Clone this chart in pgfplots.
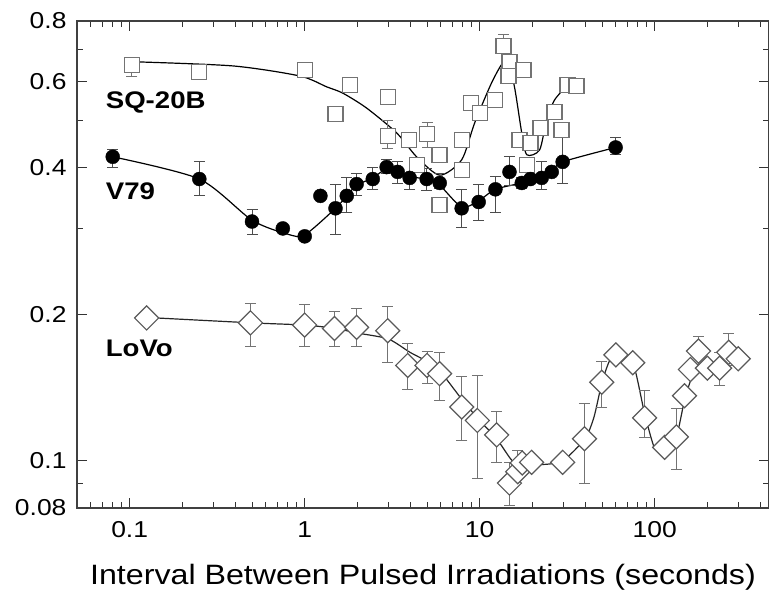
\documentclass[border=0pt]{standalone}
\usepackage{pgfplots}
\pgfplotsset{compat=1.18}
\usepackage{pgfplotstable}
\usepackage{fontspec}
\setmainfont{Liberation Sans}[FakeStretch=1.15]
\usetikzlibrary{calc}

\pgfplotstableread{
x y ep em
0.08 0.421 0.014 0.020
0.25 0.379 0.032 0.029
0.5 0.310 0.019 0.019
0.75 0.300 0 0
1.0 0.289 0 0
1.23 0.350 0 0
1.5 0.330 0.040 0.039
1.74 0.350 0.031 0.027
1.98 0.370 0.020 0.019
2.45 0.379 0.022 0.019
2.94 0.401 0.014 0.011
3.4 0.392 0.019 0.020
3.98 0.381 0.009 0.021
4.98 0.379 0.020 0.020
5.91 0.372 0.018 0.010
7.89 0.330 0.030 0.029
9.87 0.340 0.030 0.029
12.3 0.361 0.023 0.038
14.8 0.392 0.029 0.024
17.4 0.372 0.010 0.010
19.5 0.379 0 0
22.6 0.381 0.030 0.021
25.8 0.392 0 0
29.8 0.411 0.051 0.039
59.8 0.440 0.022 0.015
}\vseven

\pgfplotstableread{
x y
0.08 0.421
0.25 0.379
0.5 0.312
0.8 0.292
1.0 0.291
1.5 0.330
1.74 0.350
1.98 0.368
2.45 0.381
2.94 0.398
3.4 0.392
3.98 0.383
4.98 0.379
5.91 0.368
7.89 0.332
9.87 0.342
12.3 0.361
17.4 0.372
19.5 0.378
22.6 0.383
25.8 0.393
29.8 0.411
59.8 0.440
}\vsevenline

\pgfplotstableread{
x y ep em
0.103 0.650 0 0.033
0.25 0.629 0 0
1.0 0.634 0 0
1.81 0.591 0 0
1.50 0.516 0 0
2.98 0.558 0 0
2.98 0.465 0.036 0.028
3.93 0.456 0 0
5.0 0.469 0.027 0.028
4.4 0.405 0 0
5.9 0.425 0 0
5.9 0.335 0 0
7.9 0.396 0 0
7.9 0.456 0 0
8.9 0.543 0 0
10.0 0.518 0 0
12.2 0.551 0 0
13.7 0.710 0.042 0.020
14.8 0.659 0 0
14.6 0.617 0 0
17.8 0.634 0 0
16.9 0.456 0 0
19.5 0.450 0 0
18.6 0.405 0 0
22.3 0.482 0 0
26.8 0.520 0 0
29.4 0.478 0 0
31.8 0.591 0 0
35.8 0.589 0 0
}\sqdata

\pgfplotstableread{
x y
0.103 0.660
0.388 0.647
0.936 0.617
1.336 0.586
1.649 0.569
2.26 0.530
3.36 0.471
4.36 0.421
5.91 0.386
7.89 0.415
9.36 0.494
11.9 0.605
14.3 0.668
15.8 0.586
17.4 0.471
18.6 0.425
22.0 0.435
24.1 0.501
26.8 0.551
31.8 0.591
}\sqline

\pgfplotstableread{
x y ep em
0.125 0.1965 0 0
0.49 0.192 0.018 0.020
1.0 0.190 0.019 0.018
1.48 0.187 0.016 0.015
1.98 0.188 0.018 0.016
2.98 0.185 0.022 0.026
3.88 0.157 0.017 0.017
5.0 0.157 0.011 0.013
5.9 0.151 0.016 0.018
7.9 0.129 0.020 0.019
9.7 0.121 0.029 0.029
12.5 0.113 0.013 0.014
14.8 0.090 0.009 0.009
16.5 0.095 0.010 0
17.5 0.099 0 0
19.8 0.0993 0 0
29.8 0.0993 0 0
39.7 0.111 0.020 0.021
49.8 0.145 0.015 0.016
60 0.165 0 0
75 0.159 0 0
87.6 0.1225 0.017 0.011
114 0.1066 0 0
133 0.112 0.016 0.016
148 0.136 0 0
160 0.154 0 0
178 0.168 0.012 0.010
200 0.155 0 0
235 0.155 0.012 0.012
265 0.167 0.016 0.010
300 0.162 0 0
}\lovo

\pgfplotstableread{
x y
0.125 0.197
0.5 0.192
1.0 0.190
1.5 0.187
2.0 0.183
3.0 0.178
4.0 0.167
5.0 0.160
6.0 0.152
8.0 0.133
10.0 0.121
12.5 0.111
15 0.101
17 0.097
20 0.098
25 0.0985
30 0.100
40 0.111
45 0.123
50 0.145
55 0.160
60 0.165
75 0.159
87.6 0.125
100 0.106
114 0.104
133 0.112
148 0.133
165 0.150
190 0.158
235 0.160
300 0.163
}\lovoline

\begin{document}
\begin{tikzpicture}
\begin{axis}[
  name=ax,
  scale only axis,
  width=692pt, height=487pt,
  xmode=log, ymode=log,
  xmin=0.05, xmax=450,
  ymin=0.08, ymax=0.8,
  xtick={0.1,1,10,100},
  xticklabels={0.1,1,10,100},
  minor xtick={0.06,0.07,0.08,0.09,0.2,0.3,0.4,0.5,0.6,0.7,0.8,0.9,2,3,4,5,6,7,8,9,20,30,40,50,60,70,80,90,200,300,400},
  ytick={0.08,0.1,0.2,0.4,0.6,0.8},
  yticklabels={0.08,0.1,0.2,0.4,0.6,0.8},
  minor ytick={0.09,0.3,0.5,0.7},
  tick align=inside,
  major tick length=10pt,
  minor tick length=6pt,
  tick style={black!80, line width=0.9pt},
  axis line style={black!75, line width=1.3pt},
  tick label style={font=\fontsize{23}{25}\selectfont},
  yticklabel style={xshift=-7pt},
  xticklabel style={yshift=-10pt},
  xlabel={Interval Between Pulsed Irradiations (seconds)},
  xlabel style={font=\fontsize{28}{30}\selectfont, at={(axis description cs:0.5,0)}, anchor=base, yshift=-76pt},
  clip=false,
]
% lines
\addplot[black, line width=1.2pt, smooth, tension=0.45] table[x=x,y=y] {\sqline};
\addplot[black, line width=1.2pt, smooth, tension=0.45] table[x=x,y=y] {\vsevenline};
\addplot[black!85, line width=1.2pt, smooth, tension=0.4] table[x=x,y=y] {\lovoline};
% SQ-20B open squares
\addplot[only marks, mark=square*, mark size=7.5pt,
  mark options={fill=white, draw=black!55, line width=1.3pt},
  error bars/.cd, y dir=both, y explicit,
  error bar style={black!55, line width=0.9pt},
  error mark options={rotate=90, black!55, mark size=5.5pt, line width=0.9pt}]
  table[x=x, y=y, y error plus=ep, y error minus=em] {\sqdata};
% V79 filled circles
\addplot[only marks, mark=*, mark size=7pt,
  mark options={fill=black, draw=black},
  error bars/.cd, y dir=both, y explicit,
  error bar style={black!70, line width=0.9pt},
  error mark options={rotate=90, black!70, mark size=5.5pt, line width=0.9pt}]
  table[x=x, y=y, y error plus=ep, y error minus=em] {\vseven};
% LoVo open diamonds
\addplot[only marks, mark=square*, mark size=8.5pt,
  mark options={rotate=45, fill=white, draw=black!65, line width=1.2pt},
  error bars/.cd, y dir=both, y explicit,
  error bar style={black!55, line width=0.9pt},
  error mark options={rotate=90, black!55, mark size=5.5pt, line width=0.9pt}]
  table[x=x, y=y, y error plus=ep, y error minus=em] {\lovo};
% series labels
\node[anchor=west, inner sep=0pt, font=\bfseries\fontsize{24}{26}\selectfont] at (axis cs:0.0729,0.545) {SQ-20B};
\node[anchor=west, inner sep=0pt, font=\bfseries\fontsize{24}{26}\selectfont] at (axis cs:0.0729,0.358) {V79};
\node[anchor=west, inner sep=0pt, font=\bfseries\fontsize{24}{26}\selectfont] at (axis cs:0.0729,0.170) {LoVo};
\end{axis}
\pgfresetboundingbox
\path ($(ax.south west)+(-77pt,-84pt)$) rectangle ($(ax.north east)+(0pt,21pt)$);
\end{tikzpicture}
\end{document}
